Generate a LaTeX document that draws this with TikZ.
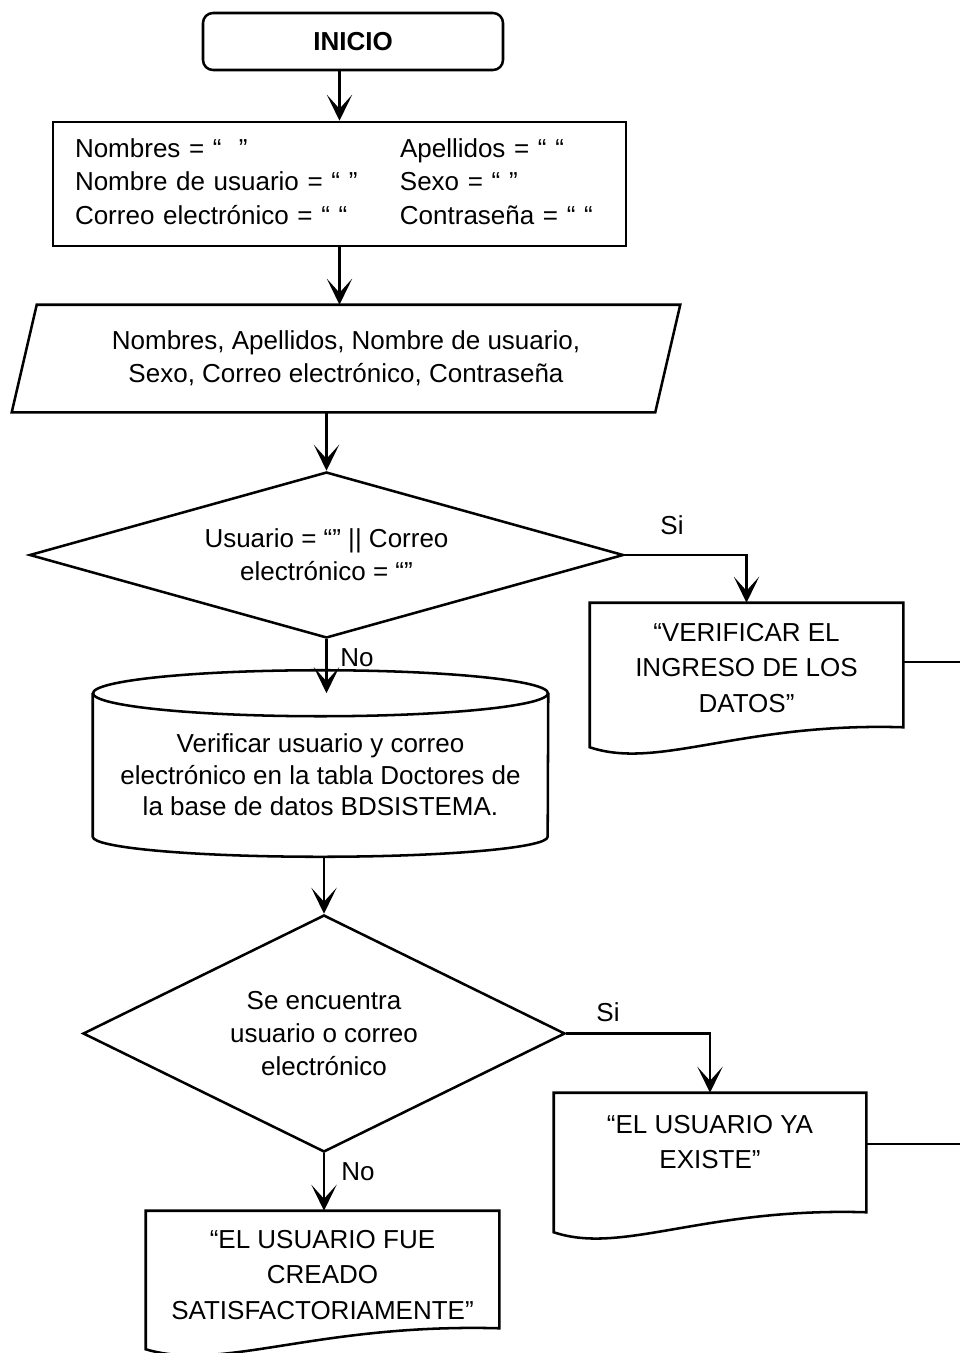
\documentclass[tikz,border=0pt]{standalone}
\usepackage{fontspec}
\setmainfont{Liberation Sans}
\usetikzlibrary{arrows.meta,calc,shapes.geometric}

% Document symbol: box with a wavy bottom edge drawn around a text node.
% #1 node name, #2 drop of right bottom corner below south, #3 drop of left bottom corner
\newcommand{\wavedoc}[3]{%
  \coordinate (#1-bl) at ($(#1.south west)+(0,#3)$);
  \coordinate (#1-br) at ($(#1.south east)+(0,#2)$);
  \coordinate (#1-c1) at ($(#1.south west)!0.22!(#1.south east)+(0,#3+23)$);
  \coordinate (#1-c2) at ($(#1.south east)!0.52!(#1.south west)+(0,#2-5)$);
  \draw[shapeln] (#1-bl) -- (#1.north west) -- (#1.north east) -- (#1-br)
    .. controls (#1-c2) and (#1-c1) .. (#1-bl) -- cycle;}

\begin{document}
\begin{tikzpicture}[x=0.75pt,y=-0.75pt,
  every node/.style={font=\fontsize{19.5pt}{25pt}\selectfont},
  shapeln/.style={draw=black,line width=1.9pt},
  arr/.style={line width=1.9pt,-{Stealth[length=19.5pt,width=19pt,inset=10.5pt]}},
  wire/.style={line width=1.9pt},
  textbox/.style={rectangle,inner sep=0pt,align=center},
  doctext/.style={textbox,font=\fontsize{19.5pt}{26.5pt}\selectfont},
  lbl/.style={inner sep=0pt}
]
\useasboundingbox (0,0) rectangle (960,1353);

% start terminal
\node[shapeln, rounded corners=7.5pt, minimum width=225pt, minimum height=42.75pt,
      font=\fontsize{19.5pt}{25pt}\selectfont\bfseries] (inicio) at (353,41.5) {INICIO};

% variable initialisation
\node[shapeln, text width=396.75pt, inner xsep=16.5pt, inner ysep=0pt,
      minimum height=93pt, align=left] (vars) at (339.5,184)
  {\begin{tabular}{@{}p{243.75pt}@{}l@{}}
   Nombres = “\ \ ” & Apellidos = “ “\\
   Nombre de usuario = “ ” & Sexo = “ ”\\
   Correo electrónico = “ “ & Contraseña = “ “
   \end{tabular}};

% input (parallelogram)
\node[textbox, minimum width=482.25pt, minimum height=80.25pt] (data) at (346,358.5)
  {Nombres, Apellidos, Nombre de usuario,\\Sexo, Correo electrónico, Contraseña};
\draw[shapeln] ($(data.north west)+(12.5,0)$) -- ($(data.north east)+(12.5,0)$)
  -- ($(data.south east)+(-12.5,0)$) -- ($(data.south west)+(-12.5,0)$) -- cycle;

% first decision
\node[shapeln, diamond, aspect=3.58, inner sep=0pt, minimum width=445.5pt,
      minimum height=124.5pt, align=center] (cond1) at (326.5,555)
  {Usuario = “” || Correo\\electrónico = “”};

% message: check input
\node[doctext, minimum width=234.75pt, minimum height=97.5pt] (msg1) at (746.5,668)
  {“VERIFICAR EL\\INGRESO DE LOS\\DATOS”};
\wavedoc{msg1}{-6}{14}

% database lookup (cylinder)
\node[textbox, minimum width=341.25pt, minimum height=122.25pt,
      font=\fontsize{19.5pt}{23.5pt}\selectfont] (db) at (320.5,775)
  {Verificar usuario y correo\\electrónico en la tabla Doctores de\\la base de datos BDSISTEMA.};
\draw[shapeln] (db.north) ellipse [x radius=170.6pt, y radius=17.25pt];
\draw[shapeln] (db.north west) -- ($(db.south west)+(0,-20)$)
  arc[start angle=180, end angle=360, x radius=170.6pt, y radius=15pt] -- (db.north east);

% second decision
\node[shapeln, diamond, aspect=2.03, inner sep=0pt, minimum width=361.5pt,
      minimum height=177.75pt, align=center] (cond2) at (324,1033.5)
  {Se encuentra\\usuario o correo\\electrónico};

% message: user exists
\node[doctext, minimum width=234pt, minimum height=73.5pt] (msg2) at (710,1142)
  {“EL USUARIO YA\\EXISTE”};
\wavedoc{msg2}{21}{41}

% message: user created
\node[doctext, minimum width=264.75pt, minimum height=96pt] (msg3) at (322.5,1275)
  {“EL USUARIO FUE\\CREADO\\SATISFACTORIAMENTE”};
\wavedoc{msg3}{-11}{10}

% free ends of the return lines
\coordinate (exit1) at (960,662);
\coordinate (exit2) at (960,1144);

% connectors
\draw[arr] (inicio.south -| vars.north) -- (vars.north);
\draw[arr] (vars.south) -- (vars.south |- data.north);
\draw[arr] (data.south -| cond1.north) -- (cond1.north);
\draw[arr] (cond1.east) -| (msg1.north);
\draw[arr] (cond1.south) -- (cond1.south |- db.north);
\draw[arr] (db.south -| cond2.north) -- (cond2.north);
\draw[arr] (cond2.east) -| (msg2.north);
\draw[arr] (cond2.south) -- (cond2.south |- msg3.north);
\draw[wire] (msg1.east |- exit1) -- (exit1);
\draw[wire] (msg2.east |- exit2) -- (exit2);

% branch labels
\node[lbl] (si1) at (672,525) {Si};
\node[lbl] (no1) at (357,658) {No};
\node[lbl] (si2) at (608,1012) {Si};
\node[lbl] (no2) at (358,1172) {No};
\end{tikzpicture}
\end{document}
